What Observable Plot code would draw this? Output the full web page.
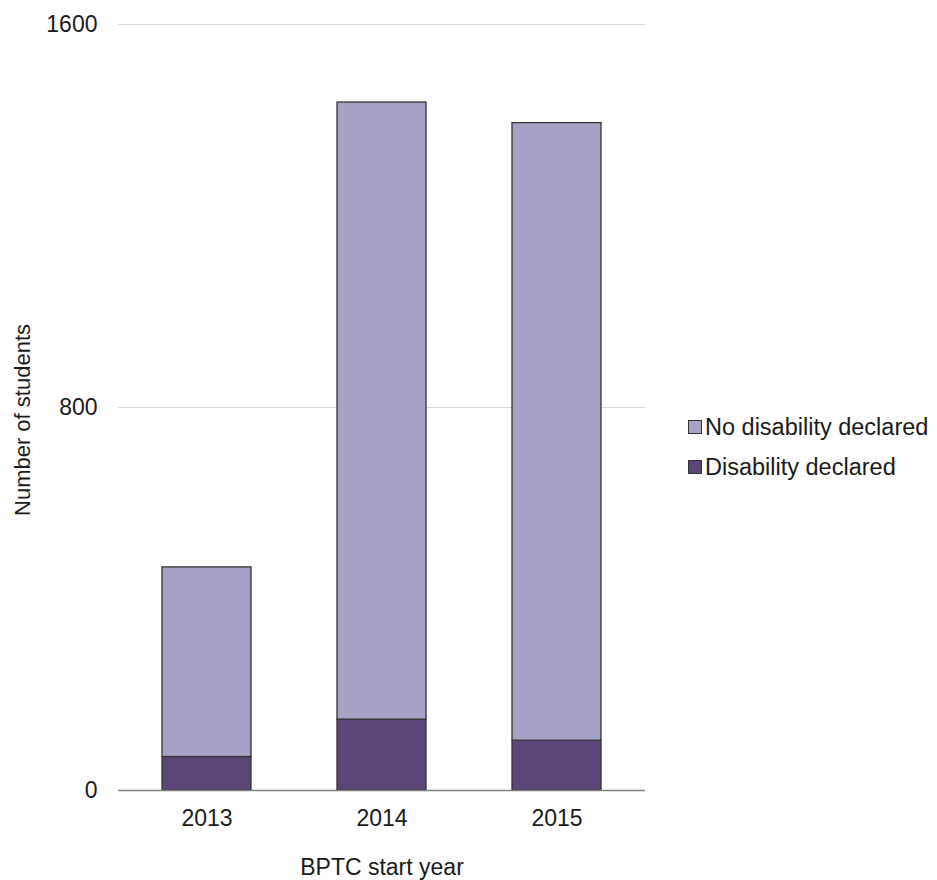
<!DOCTYPE html>
<html>
<head>
<meta charset="utf-8">
<script src="https://cdn.jsdelivr.net/npm/d3@7"></script>
<script src="https://cdn.jsdelivr.net/npm/@observablehq/plot@0.6"></script>
<style>
  body { margin: 0; background: #fff; font-family: "Liberation Sans", Arial, sans-serif; }
  #wrap { position: relative; width: 937px; height: 880px; }
  #legend { position: absolute; left: 688px; top: 407px; font-size: 23.5px; color: #1a1a1a; }
  .item { display: flex; align-items: center; height: 40px; }
  .sw { width: 12px; height: 12px; border: 1px solid #333; margin-right: 3px; }
  #ylabel { position: absolute; left: 23px; top: 420px; transform: translate(-50%, -50%) rotate(-90deg); white-space: nowrap; font-size: 22px; color: #1a1a1a; }
</style>
</head>
<body>
<div id="wrap">
  <div id="chart"></div>
  <div id="ylabel">Number of students</div>
  <div id="legend"></div>
</div>
<script>
const years = ["2013", "2014", "2015"];
const series = ["No disability declared", "Disability declared"];
const disability = [70, 148, 104];
const noDisability = [396, 1289, 1290];
const yTicks = [0, 800, 1600];
const colors = ["#a5a2c6", "#5b4579"];

const data = [];
years.forEach((y, i) => {
  data.push({year: y, group: "Disability declared", value: disability[i]});
  data.push({year: y, group: "No disability declared", value: noDisability[i]});
});

const chart = Plot.plot({
  width: 937,
  height: 880,
  marginTop: 24,
  marginBottom: 90,
  marginLeft: 118,
  marginRight: 292,
  style: {fontFamily: '"Liberation Sans", Arial, sans-serif', fontSize: "23px", color: "#1a1a1a", background: "#fff"},
  x: {domain: years, paddingInner: 0.49, paddingOuter: 0.245, label: null},
  y: {domain: [0, 1600], label: null},
  color: {domain: series, range: colors},
  marks: [
    Plot.gridY(yTicks, {stroke: "#d9d9d9", strokeOpacity: 1}),
    Plot.axisY({ticks: yTicks, tickFormat: d3.format("d"), tickSize: 0, tickPadding: 21, label: null, fontSize: 23}),
    Plot.axisX({tickSize: 0, tickPadding: 19, label: "BPTC start year", labelAnchor: "center", labelOffset: 84, labelArrow: "none", fontSize: 23}),
    Plot.barY(data, Plot.stackY({x: "year", y: "value", fill: "group", order: ["Disability declared", "No disability declared"], stroke: "#333", strokeWidth: 1.3})),
    Plot.ruleY([0], {stroke: "#7f7f7f", strokeWidth: 1.5})
  ]
});
document.getElementById("chart").appendChild(chart);

const legend = document.getElementById("legend");
series.forEach((s, i) => {
  const row = document.createElement("div");
  row.className = "item";
  const sw = document.createElement("div");
  sw.className = "sw";
  sw.style.background = colors[i];
  const t = document.createElement("span");
  t.textContent = s;
  row.appendChild(sw);
  row.appendChild(t);
  legend.appendChild(row);
});
</script>
</body>
</html>
